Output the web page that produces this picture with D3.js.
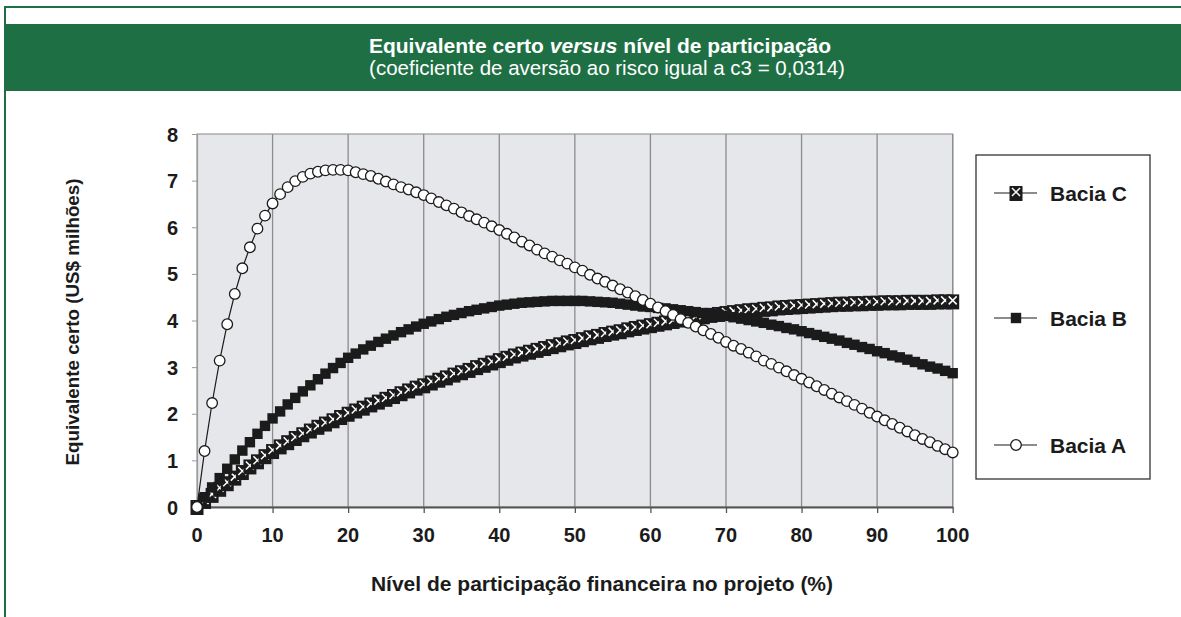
<!DOCTYPE html>
<html><head><meta charset="utf-8">
<script src="https://cdn.jsdelivr.net/npm/d3@7"></script>
<style>body{margin:0;background:#fff}svg{display:block}text{font-family:"Liberation Sans",Arial,Helvetica,sans-serif}</style>
</head><body><svg id="c" width="1181" height="617"></svg>
<script>
const participation = [0,1,2,3,4,5,6,7,8,9,10,11,12,13,14,15,16,17,18,19,20,21,22,23,24,25,26,27,28,29,30,31,32,33,34,35,36,37,38,39,40,41,42,43,44,45,46,47,48,49,50,51,52,53,54,55,56,57,58,59,60,61,62,63,64,65,66,67,68,69,70,71,72,73,74,75,76,77,78,79,80,81,82,83,84,85,86,87,88,89,90,91,92,93,94,95,96,97,98,99,100];
const baciaA = [0.00,1.20,2.23,3.14,3.92,4.57,5.12,5.57,5.97,6.25,
6.51,6.71,6.86,6.99,7.08,7.15,7.19,7.22,7.23,7.23,
7.22,7.18,7.14,7.10,7.04,6.98,6.92,6.86,6.81,6.75,
6.69,6.62,6.54,6.47,6.40,6.32,6.24,6.17,6.10,6.02,
5.94,5.86,5.78,5.69,5.61,5.52,5.44,5.37,5.29,5.22,
5.14,5.07,4.98,4.90,4.83,4.75,4.67,4.60,4.52,4.44,
4.36,4.28,4.20,4.12,4.03,3.95,3.87,3.79,3.71,3.63,
3.54,3.46,3.39,3.31,3.23,3.14,3.07,2.99,2.91,2.83,
2.75,2.67,2.59,2.51,2.43,2.35,2.27,2.19,2.11,2.02,
1.94,1.86,1.78,1.70,1.62,1.54,1.46,1.39,1.31,1.24,
1.17];
const baciaB = [0.00,0.21,0.42,0.62,0.82,1.02,1.21,1.39,1.57,1.74,
1.90,2.05,2.20,2.34,2.48,2.61,2.74,2.86,2.98,3.09,
3.20,3.29,3.38,3.46,3.54,3.61,3.68,3.75,3.81,3.87,
3.93,3.98,4.03,4.08,4.12,4.16,4.20,4.23,4.26,4.29,
4.32,4.34,4.36,4.38,4.39,4.40,4.41,4.42,4.42,4.42,
4.42,4.42,4.41,4.40,4.39,4.38,4.36,4.34,4.32,4.30,
4.29,4.27,4.26,4.24,4.22,4.20,4.18,4.16,4.14,4.12,
4.10,4.07,4.04,4.01,3.98,3.95,3.91,3.88,3.84,3.81,
3.77,3.73,3.69,3.65,3.61,3.57,3.52,3.48,3.43,3.39,
3.34,3.30,3.25,3.21,3.16,3.11,3.06,3.01,2.97,2.92,
2.87];
const baciaC = [0.00,0.13,0.26,0.39,0.51,0.63,0.75,0.87,0.98,1.09,
1.20,1.30,1.39,1.48,1.56,1.64,1.72,1.79,1.86,1.93,
2.00,2.07,2.13,2.20,2.26,2.32,2.38,2.44,2.50,2.56,
2.61,2.67,2.73,2.78,2.84,2.89,2.94,3.00,3.05,3.10,
3.15,3.20,3.25,3.29,3.33,3.37,3.41,3.45,3.49,3.53,
3.56,3.60,3.64,3.67,3.71,3.74,3.77,3.81,3.84,3.87,
3.90,3.93,3.96,3.99,4.02,4.04,4.07,4.09,4.12,4.14,
4.16,4.18,4.20,4.22,4.23,4.25,4.26,4.28,4.29,4.30,
4.31,4.32,4.33,4.34,4.35,4.36,4.36,4.37,4.37,4.38,
4.38,4.39,4.39,4.39,4.40,4.40,4.40,4.40,4.41,4.41,
4.41];
const xTicks = [0,10,20,30,40,50,60,70,80,90,100];
const yTicks = [0,1,2,3,4,5,6,7,8];
const legendNames = ["Bacia C","Bacia B","Bacia A"];
const titleText = "Equivalente certo ";
const titleItalic = "versus";
const titleRest = " nível de participação";
const subtitleText = "(coeficiente de aversão ao risco igual a c3 = 0,0314)";
const xTitle = "Nível de participação financeira no projeto (%)";
const yTitle = "Equivalente certo (US$ milhões)";

const svg = d3.select("#c");
const green = "#1e7044";
const ink = "#1b1b1b";

svg.append("rect").attr("width",1181).attr("height",617).attr("fill","#fff");
// frame
svg.append("line").attr("x1",4).attr("x2",1181).attr("y1",7).attr("y2",7).attr("stroke",green).attr("stroke-width",2);
svg.append("line").attr("x1",5).attr("x2",5).attr("y1",6).attr("y2",617).attr("stroke",green).attr("stroke-width",2);
svg.append("rect").attr("x",4).attr("y",24).attr("width",1177).attr("height",67).attr("fill",green);

const t = svg.append("text").attr("x",600).attr("y",53).attr("text-anchor","middle")
  .attr("fill","#fff").attr("font-size",21).attr("font-weight","bold");
t.append("tspan").text(titleText);
t.append("tspan").attr("font-style","italic").text(titleItalic);
t.append("tspan").text(titleRest);
svg.append("text").attr("x",607).attr("y",75).attr("text-anchor","middle")
  .attr("fill","#fff").attr("font-size",20.5).text(subtitleText);

const x = d3.scaleLinear().domain([0,100]).range([197,952.7]);
const y = d3.scaleLinear().domain([0,8]).range([507,134]);

// plot area
svg.append("rect").attr("x",x(0)).attr("y",y(8)).attr("width",x(100)-x(0)).attr("height",y(0)-y(8))
  .attr("fill","#e6e7eb").attr("stroke","#9a9a9a").attr("stroke-width",1.2);
svg.append("g").selectAll("line").data(xTicks.slice(1)).join("line")
  .attr("x1",d=>x(d)).attr("x2",d=>x(d)).attr("y1",y(0)).attr("y2",y(8))
  .attr("stroke","#8c8c8c").attr("stroke-width",1.3);

// axes
const gx = svg.append("g").attr("transform",`translate(0,${y(0)})`)
  .call(d3.axisBottom(x).tickValues(xTicks).tickSize(6).tickSizeOuter(0).tickFormat(""));
gx.select(".domain").attr("stroke","#555").attr("stroke-width",2.2);
gx.selectAll(".tick line").attr("stroke","#555").attr("stroke-width",1.3);
const gy = svg.append("g").attr("transform",`translate(${x(0)},0)`)
  .call(d3.axisLeft(y).tickValues(yTicks).tickSize(5).tickSizeOuter(0).tickFormat(""));
gy.select(".domain").attr("stroke","#9a9a9a").attr("stroke-width",1.2);
gy.selectAll(".tick line").attr("stroke","#9a9a9a");

svg.append("g").selectAll("text").data(xTicks).join("text")
  .attr("x",d=>x(d)).attr("y",y(0)+35).attr("text-anchor","middle")
  .attr("font-size",20).attr("font-weight","bold").attr("fill",ink).text(d=>d);
svg.append("g").selectAll("text").data(yTicks).join("text")
  .attr("x",x(0)-19).attr("y",d=>y(d)+7.5).attr("text-anchor","end")
  .attr("font-size",20).attr("font-weight","bold").attr("fill",ink).text(d=>d);

svg.append("text").attr("x",602).attr("y",591).attr("text-anchor","middle")
  .attr("font-size",21).attr("font-weight","bold").attr("fill",ink).text(xTitle);
svg.append("text").attr("transform","translate(79,322) rotate(-90)").attr("text-anchor","middle")
  .attr("font-size",18.8).attr("font-weight","bold").attr("fill",ink).text(yTitle);

// series
const line = d3.line().x((d,i)=>x(participation[i])).y(d=>y(d));
function markerC(g){
  g.append("rect").attr("x",-6.5).attr("y",-7).attr("width",13).attr("height",15).attr("fill",ink);
  g.append("path").attr("d","M-4,-5L4,3M4,-5L-4,3").attr("stroke","#fff").attr("stroke-width",1.5);
}
function markerB(g){
  g.append("rect").attr("x",-5.2).attr("y",-5.2).attr("width",10.4).attr("height",10.4).attr("fill",ink);
}
function markerA(g){
  g.append("circle").attr("r",5.3).attr("fill","#fff").attr("stroke",ink).attr("stroke-width",1.3);
}
const series = [
  {vals:baciaC, mk:markerC},
  {vals:baciaB, mk:markerB},
  {vals:baciaA, mk:markerA}
];
series.forEach(s=>{
  const g = svg.append("g");
  g.append("path").datum(s.vals).attr("d",line).attr("fill","none").attr("stroke",ink).attr("stroke-width",1.2);
  g.selectAll("g").data(s.vals).join("g")
    .attr("transform",(d,i)=>`translate(${x(participation[i])},${y(d)})`)
    .each(function(){ s.mk(d3.select(this)); });
});

// legend
svg.append("rect").attr("x",976).attr("y",155).attr("width",174).attr("height",324)
  .attr("fill","#fff").attr("stroke","#333").attr("stroke-width",1.3);
const legY = [193,318,445];
const legMk = [markerC, markerB, markerA];
legendNames.forEach((n,i)=>{
  const g = svg.append("g").attr("transform",`translate(0,${legY[i]})`);
  g.append("line").attr("x1",994).attr("x2",1037).attr("stroke",ink).attr("stroke-width",1.2);
  const m = g.append("g").attr("transform","translate(1016,0)");
  legMk[i](m);
  g.append("text").attr("x",1050).attr("y",7.5).attr("font-size",21).attr("font-weight","bold").attr("fill",ink).text(n);
});
</script></body></html>
